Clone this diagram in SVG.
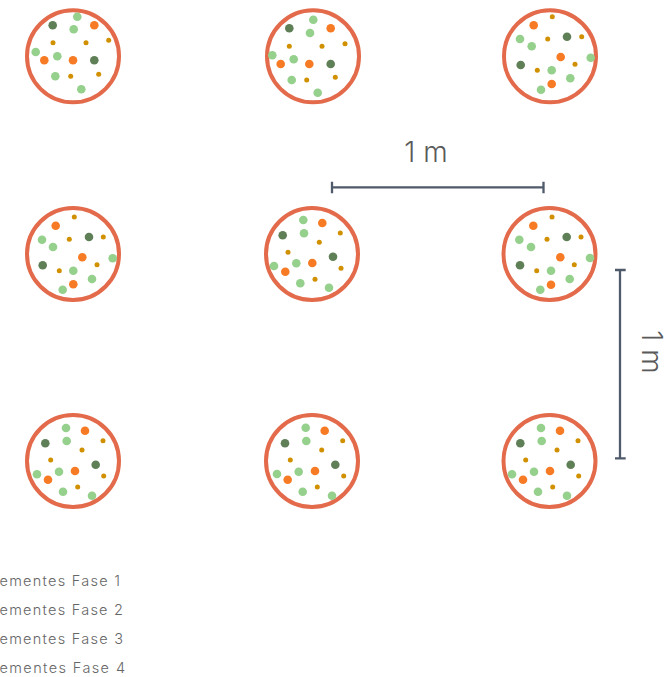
<svg xmlns="http://www.w3.org/2000/svg" width="669" height="677" viewBox="0 0 669 677">
<style>
.pot{fill:#fff;stroke:#E36B4B;stroke-width:4}
.lg{fill:#95D08C}.dg{fill:#5F7F57}.or{fill:#F77B25}.gd{fill:#D09000}
.bar{stroke:#4F5A6B;stroke-width:2.3;fill:none}
.lbl{font-family:Inter,"Open Sans","Liberation Sans",sans-serif;font-weight:300;fill:#5a5a5a}
.leg{font-family:Inter,"Open Sans","Liberation Sans",sans-serif;font-weight:300;fill:#666;font-size:14.5px}
</style>
<rect width="669" height="677" fill="#fff"/>
<g id="plant-r1c1">
<circle class="pot" cx="73" cy="56.3" r="46"/>
<circle class="lg" cx="77.3" cy="16.7" r="4.3"/><circle class="dg" cx="52.7" cy="25.3" r="4.3"/><circle class="or" cx="94.3" cy="25.3" r="4.3"/><circle class="lg" cx="73.7" cy="29.3" r="4.3"/>
<circle class="gd" cx="53" cy="42.7" r="2.5"/><circle class="gd" cx="86" cy="42.7" r="2.5"/><circle class="gd" cx="108.7" cy="40.3" r="2.5"/>
<circle class="lg" cx="35.7" cy="52" r="4.3"/><circle class="or" cx="44.3" cy="60.3" r="4.3"/><circle class="lg" cx="57.3" cy="56.3" r="4.3"/><circle class="or" cx="73" cy="60.3" r="4.3"/><circle class="dg" cx="94.3" cy="60.3" r="4.3"/>
<circle class="lg" cx="55.3" cy="76.3" r="4.3"/><circle class="gd" cx="70.7" cy="76.3" r="2.5"/><circle class="gd" cx="98.7" cy="74.3" r="2.5"/><circle class="lg" cx="81.3" cy="89.3" r="4.3"/>
</g>
<g id="plant-r1c2">
<circle class="pot" cx="313" cy="56.3" r="46"/>
<circle class="lg" cx="313.3" cy="19.7" r="4.3"/><circle class="dg" cx="289.3" cy="28.3" r="4.3"/><circle class="or" cx="330.7" cy="28.3" r="4.3"/><circle class="lg" cx="310" cy="33" r="4.3"/>
<circle class="gd" cx="289.3" cy="46.3" r="2.5"/><circle class="gd" cx="322" cy="46.3" r="2.5"/><circle class="gd" cx="345" cy="43.7" r="2.5"/>
<circle class="lg" cx="272.3" cy="55.3" r="4.3"/><circle class="or" cx="280.7" cy="64" r="4.3"/><circle class="lg" cx="293.7" cy="59.3" r="4.3"/><circle class="or" cx="309.3" cy="64" r="4.3"/><circle class="dg" cx="330.7" cy="64" r="4.3"/>
<circle class="lg" cx="291.7" cy="80" r="4.3"/><circle class="gd" cx="306.7" cy="80" r="2.5"/><circle class="gd" cx="335.3" cy="77.3" r="2.5"/><circle class="lg" cx="317.7" cy="92.7" r="4.3"/>
</g>
<g id="plant-r1c3">
<circle class="pot" cx="550" cy="56.3" r="46"/>
<circle class="gd" cx="552.3" cy="16.7" r="2.5"/><circle class="or" cx="533.7" cy="25.3" r="4.3"/><circle class="lg" cx="520" cy="39" r="4.3"/><circle class="gd" cx="547.7" cy="39" r="2.5"/>
<circle class="dg" cx="567" cy="36.7" r="4.3"/><circle class="gd" cx="581.7" cy="36.7" r="2.5"/><circle class="lg" cx="531.7" cy="46.3" r="4.3"/><circle class="or" cx="560.7" cy="57" r="4.3"/>
<circle class="lg" cx="590.7" cy="57.7" r="4.3"/><circle class="dg" cx="520.7" cy="65" r="4.3"/><circle class="gd" cx="537.3" cy="70.3" r="2.5"/><circle class="lg" cx="551.7" cy="70.3" r="4.3"/>
<circle class="gd" cx="575" cy="64.3" r="2.5"/><circle class="lg" cx="570.3" cy="78.3" r="4.3"/><circle class="or" cx="551.7" cy="84" r="4.3"/><circle class="lg" cx="541" cy="89.7" r="4.3"/>
</g>
<g id="plant-r2c1">
<circle class="pot" cx="73" cy="254" r="46"/>
<circle class="gd" cx="74.3" cy="217" r="2.5"/><circle class="or" cx="55.7" cy="225.7" r="4.3"/><circle class="lg" cx="42" cy="239.7" r="4.3"/><circle class="gd" cx="69.3" cy="239.3" r="2.5"/>
<circle class="dg" cx="89" cy="237" r="4.3"/><circle class="gd" cx="103.3" cy="237" r="2.5"/><circle class="lg" cx="53" cy="247" r="4.3"/><circle class="or" cx="82.3" cy="257.3" r="4.3"/>
<circle class="lg" cx="112.7" cy="258.3" r="4.3"/><circle class="dg" cx="42.7" cy="265.3" r="4.3"/><circle class="gd" cx="59.3" cy="270.7" r="2.5"/><circle class="lg" cx="73.3" cy="270.7" r="4.3"/>
<circle class="gd" cx="97" cy="264.7" r="2.5"/><circle class="lg" cx="92" cy="279" r="4.3"/><circle class="or" cx="73.3" cy="284.3" r="4.3"/><circle class="lg" cx="62.7" cy="289.7" r="4.3"/>
</g>
<g id="plant-r2c2">
<circle class="pot" cx="312" cy="254" r="46"/>
<circle class="lg" cx="303.3" cy="220" r="4.3"/><circle class="or" cx="322.3" cy="223" r="4.3"/><circle class="dg" cx="282.7" cy="235.3" r="4.3"/><circle class="lg" cx="304" cy="233.3" r="4.3"/>
<circle class="gd" cx="340.3" cy="233" r="2.5"/><circle class="gd" cx="319.3" cy="242.3" r="2.5"/><circle class="gd" cx="288" cy="252.3" r="2.5"/><circle class="dg" cx="333" cy="256.7" r="4.3"/>
<circle class="lg" cx="296.3" cy="263.3" r="4.3"/><circle class="or" cx="312.3" cy="263" r="4.3"/><circle class="lg" cx="274" cy="266" r="4.3"/><circle class="or" cx="285.3" cy="271.7" r="4.3"/>
<circle class="gd" cx="341" cy="268.3" r="2.5"/><circle class="gd" cx="315" cy="279.3" r="2.5"/><circle class="lg" cx="300.3" cy="283.3" r="4.3"/><circle class="lg" cx="329" cy="287.7" r="4.3"/>
</g>
<g id="plant-r2c3">
<circle class="pot" cx="549.5" cy="254" r="46"/>
<circle class="gd" cx="552" cy="217" r="2.5"/><circle class="or" cx="533.3" cy="225.7" r="4.3"/><circle class="lg" cx="519.3" cy="239.7" r="4.3"/><circle class="gd" cx="547" cy="239.3" r="2.5"/>
<circle class="dg" cx="566.7" cy="237" r="4.3"/><circle class="gd" cx="581" cy="237" r="2.5"/><circle class="lg" cx="531" cy="247" r="4.3"/><circle class="or" cx="560.3" cy="257.3" r="4.3"/>
<circle class="lg" cx="590" cy="258" r="4.3"/><circle class="dg" cx="520" cy="265.3" r="4.3"/><circle class="gd" cx="536.7" cy="270.7" r="2.5"/><circle class="lg" cx="551" cy="270.7" r="4.3"/>
<circle class="gd" cx="574.3" cy="264.7" r="2.5"/><circle class="lg" cx="569.7" cy="279" r="4.3"/><circle class="or" cx="551" cy="284.7" r="4.3"/><circle class="lg" cx="540.3" cy="289.7" r="4.3"/>
</g>
<g id="plant-r3c1">
<circle class="pot" cx="73" cy="461" r="46"/>
<circle class="lg" cx="66" cy="428" r="4.3"/><circle class="or" cx="85" cy="430.7" r="4.3"/><circle class="dg" cx="45.3" cy="443.3" r="4.3"/><circle class="lg" cx="66.7" cy="441" r="4.3"/>
<circle class="gd" cx="103" cy="440.7" r="2.5"/><circle class="gd" cx="82" cy="450" r="2.5"/><circle class="gd" cx="50.7" cy="460" r="2.5"/><circle class="dg" cx="95.7" cy="464.7" r="4.3"/>
<circle class="lg" cx="59" cy="471.7" r="4.3"/><circle class="or" cx="75" cy="471" r="4.3"/><circle class="lg" cx="37" cy="474.3" r="4.3"/><circle class="or" cx="48" cy="479.7" r="4.3"/>
<circle class="gd" cx="103.7" cy="476" r="2.5"/><circle class="gd" cx="77.7" cy="487" r="2.5"/><circle class="lg" cx="63" cy="491.7" r="4.3"/><circle class="lg" cx="92" cy="495.7" r="4.3"/>
</g>
<g id="plant-r3c2">
<circle class="pot" cx="312" cy="461" r="46"/>
<circle class="lg" cx="305.7" cy="427.7" r="4.3"/><circle class="or" cx="324.7" cy="430.7" r="4.3"/><circle class="dg" cx="285" cy="443.3" r="4.3"/><circle class="lg" cx="306.3" cy="441" r="4.3"/>
<circle class="gd" cx="342.7" cy="440.7" r="2.5"/><circle class="gd" cx="321.7" cy="450" r="2.5"/><circle class="gd" cx="290.3" cy="460" r="2.5"/><circle class="dg" cx="335.3" cy="464.7" r="4.3"/>
<circle class="lg" cx="298.7" cy="471.7" r="4.3"/><circle class="or" cx="315" cy="471" r="4.3"/><circle class="lg" cx="277" cy="474" r="4.3"/><circle class="or" cx="287.7" cy="479.7" r="4.3"/>
<circle class="gd" cx="343.7" cy="476" r="2.5"/><circle class="gd" cx="317.3" cy="487" r="2.5"/><circle class="lg" cx="302.7" cy="491.7" r="4.3"/><circle class="lg" cx="332" cy="495.7" r="4.3"/>
</g>
<g id="plant-r3c3">
<circle class="pot" cx="549.5" cy="461" r="46"/>
<circle class="lg" cx="541" cy="428" r="4.3"/><circle class="or" cx="560" cy="430.7" r="4.3"/><circle class="dg" cx="520.3" cy="443.3" r="4.3"/><circle class="lg" cx="541.7" cy="441" r="4.3"/>
<circle class="gd" cx="578" cy="440.7" r="2.5"/><circle class="gd" cx="557" cy="450" r="2.5"/><circle class="gd" cx="525.7" cy="460" r="2.5"/><circle class="dg" cx="570.7" cy="464.7" r="4.3"/>
<circle class="lg" cx="534" cy="471.7" r="4.3"/><circle class="or" cx="550" cy="471" r="4.3"/><circle class="lg" cx="512" cy="474.3" r="4.3"/><circle class="or" cx="523" cy="479.7" r="4.3"/>
<circle class="gd" cx="578.7" cy="476" r="2.5"/><circle class="gd" cx="552.7" cy="487" r="2.5"/><circle class="lg" cx="538" cy="491.7" r="4.3"/><circle class="lg" cx="567" cy="495.7" r="4.3"/>
</g>
<g id="scales">
<path class="bar" d="M332 187.3H543.5M332 181.7V193.3M543.5 181.7V193.3"/>
<path class="bar" d="M620 270V458.3M615 270H625.7M615 458.3H625.7"/>
<text class="lbl" x="426" y="162" font-size="28" text-anchor="middle">1 m</text>
<text class="lbl" transform="translate(642,352) rotate(90)" font-size="28" text-anchor="middle">1 m</text>
</g>
<g id="legend">
<text class="leg" x="-0.5" y="586" textLength="120.5" lengthAdjust="spacing">ementes Fase 1</text>
<text class="leg" x="-0.5" y="615" textLength="123.5" lengthAdjust="spacing">ementes Fase 2</text>
<text class="leg" x="-0.5" y="644" textLength="123.5" lengthAdjust="spacing">ementes Fase 3</text>
<text class="leg" x="-0.5" y="673" textLength="125.5" lengthAdjust="spacing">ementes Fase 4</text>
</g>
</svg>
